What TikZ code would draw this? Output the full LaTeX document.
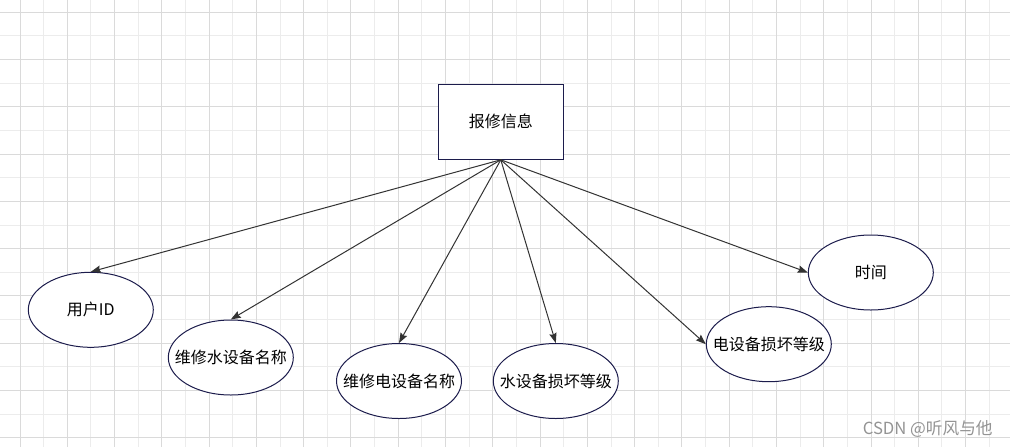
\documentclass[tikz,border=0pt]{standalone}
\usepackage{fontspec}
\usetikzlibrary{shapes.geometric,arrows.meta}
\newfontfamily\cjk{Noto Sans CJK SC}
\definecolor{gridmajor}{HTML}{DADADA}
\definecolor{gridminor}{HTML}{ECECEC}
\definecolor{navy}{HTML}{1C1C4C}
\definecolor{edgegray}{HTML}{333333}

\begin{document}
\begin{tikzpicture}[x=0.75pt,y=-0.75pt,
  entity/.style={draw=navy, line width=0.75pt, fill=white, minimum width=93.75pt, minimum height=56.25pt, inner sep=0pt, font=\cjk\fontsize{12}{14}\selectfont},
  attr/.style={entity, ellipse, label={[font=\cjk\fontsize{12}{14}\selectfont, inner sep=0pt]center:#1}},
  link/.style={draw=edgegray, line width=0.75pt, -{Stealth[length=7.5pt,width=5.5pt,inset=1pt]}}]
\useasboundingbox (0,0) rectangle (1010,447);
\fill[white] (0,0) rectangle (1010,447);
% Background grid, every other line a bit darker
\foreach \x in {43.64,90.92,...,1010} \draw[gridminor, line width=0.75pt] (\x,0) -- (\x,447);
\foreach \y in {35.94,83.22,...,447} \draw[gridminor, line width=0.75pt] (0,\y) -- (1010,\y);
\foreach \x in {20,67.28,...,1010} \draw[gridmajor, line width=0.75pt] (\x,0) -- (\x,447);
\foreach \y in {12.3,59.58,...,447} \draw[gridmajor, line width=0.75pt] (0,\y) -- (1010,\y);
% Entity box
\node[entity] (info) at (500.8,121.8) {报修信息};
% Attributes (text as centre label so the ellipse keeps its size)
\node[attr=用户ID] (user) at (90.8,309.8) {};
\node[attr=维修水设备名称] (waterdev) at (230.8,357.5) {};
\node[attr=维修电设备名称] (elecdev) at (399,381) {};
\node[attr=水设备损坏等级] (waterlvl) at (555.8,381) {};
\node[attr=电设备损坏等级] (eleclvl) at (768.8,344.2) {};
\node[attr=时间] (time) at (870.8,272.5) {};
% Arrows from the box to each attribute
\draw[link] (info.south) -- (user.north);
\draw[link] (info.south) -- (waterdev.north);
\draw[link] (info.south) -- (elecdev.north);
\draw[link] (info.south) -- (waterlvl.north);
\draw[link] (info.south) -- (eleclvl.west);
\draw[link] (info.south) -- (time.west);
% Watermark
\node[text=black!42, font=\cjk\fontsize{12.5}{14}\selectfont, inner sep=0pt] (wm) at (927.7,429.3) {CSDN @听风与他};
\end{tikzpicture}
\end{document}
